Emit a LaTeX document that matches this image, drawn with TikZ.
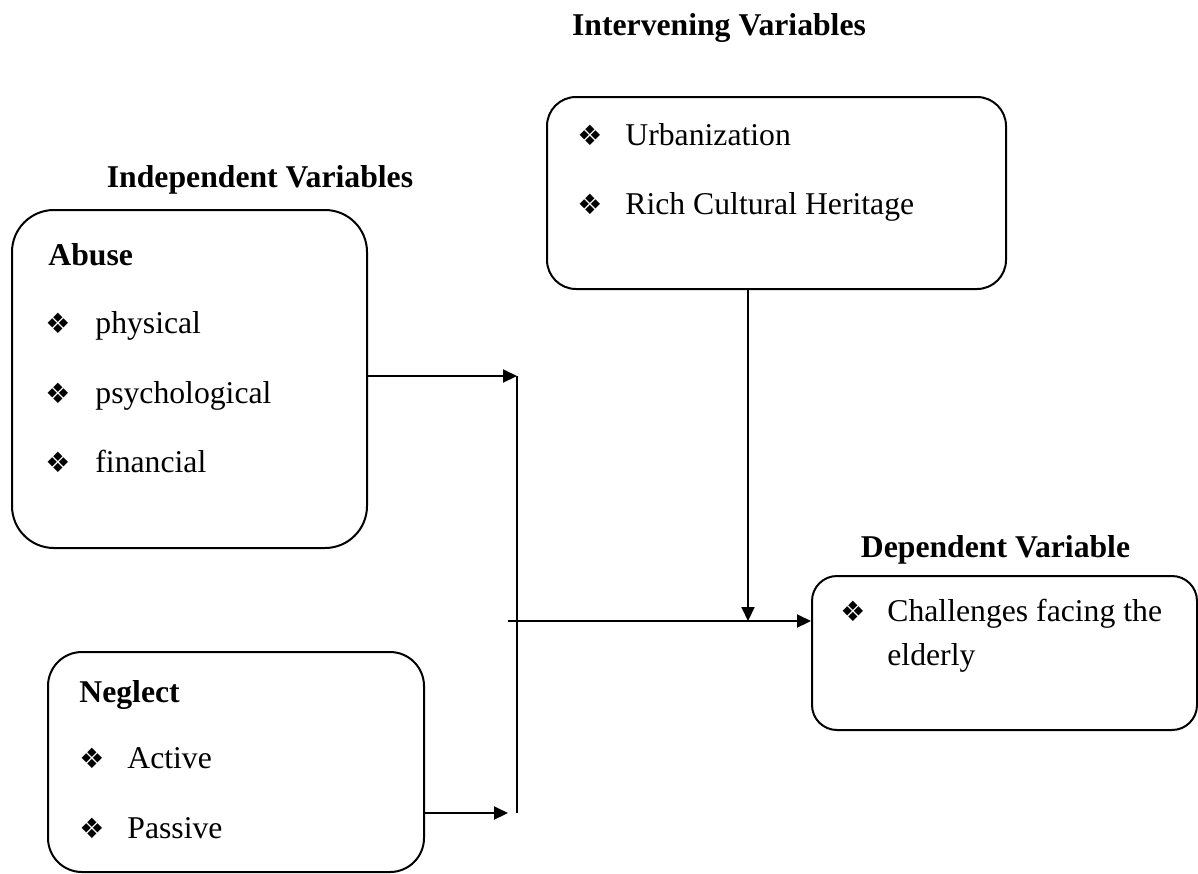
\documentclass[tikz,border=0pt]{standalone}
\usepackage{fontspec}
\setmainfont{Liberation Serif}
\newfontfamily\symfont{DejaVu Sans}
\usetikzlibrary{arrows.meta,positioning}

\newcommand{\dia}{{\symfont\fontsize{14}{14}\selectfont ❖}}

\begin{document}
\begin{tikzpicture}[x=0.5pt,y=-0.5pt,font=\fontsize{15.85}{18}\selectfont,
	box/.style={draw,line width=1pt,inner sep=0pt},
	head/.style={font=\fontsize{15.85}{18}\selectfont\bfseries,anchor=base,inner sep=0pt},
	item/.style={anchor=base west,inner sep=0pt},
	dot/.style={inner sep=0pt},
	arr/.style={line width=1pt,-{Triangle[length=7pt,width=6.5pt]}},
	ln/.style={line width=1pt}]
	\useasboundingbox (0,0) rectangle (1198,873);
	
	% Boxes
	\node[box,rounded corners=21pt,minimum width=177.5pt,minimum height=169pt] (abuse) at (189.5,379) {};
	\node[box,rounded corners=17pt,minimum width=188pt,minimum height=110pt] (neglect) at (236,762) {};
	\node[box,rounded corners=14.5pt,minimum width=229.5pt,minimum height=96pt] (interv) at (776.5,193) {};
	\node[box,rounded corners=12.5pt,minimum width=192.5pt,minimum height=77pt] (dep) at (1004.5,653) {};
	
	% Headings
	\node[head] (indephead) at (260,187) {Independent Variables};
	\node[head] (intervhead) at (719,35) {Intervening Variables};
	\node[head] (dephead) at (995.5,557) {Dependent Variable};
	\node[head,anchor=base west] (abusehead) at (48,265) {Abuse};
	\node[head,anchor=base west] (neglecthead) at (79,702) {Neglect};
	
	% Items
	\foreach \t/\y in {physical/333, psychological/403, financial/472}{
		\node[dot] (abd\y) at (58,\y-10) {\dia};
		\node[item] (abt\y) at (95,\y) {\t};
	}
	\foreach \t/\y in {Active/768, Passive/838}{
		\node[dot] (ned\y) at (92,\y-10) {\dia};
		\node[item] (net\y) at (127,\y) {\t};
	}
	\foreach \t/\y in {Urbanization/145, Rich Cultural Heritage/214}{
		\node[dot] (ind\y) at (590,\y-10) {\dia};
		\node[item] (int\y) at (625,\y) {\t};
	}
	\node[dot] (depd) at (853,611) {\dia};
	\node[item] (dept1) at (887,621) {Challenges facing the};
	\node[item] (dept2) at (887,665) {elderly};
	
	% Connectors
	\coordinate (jtop) at (517,376);
	\coordinate (jbot) at (517,813);
	\coordinate (nend) at (508,813);
	\coordinate (mstart) at (508,621);
	\coordinate (mid) at (748,621);
	\draw[arr] (abuse.east |- jtop) -- (jtop);
	\draw[ln] (jtop) -- (jbot);
	\draw[arr] (neglect.east |- nend) -- (nend);
	\draw[arr] (mstart) -- (dep.west |- mstart);
	\draw[arr] (interv.south -| mid) -- (mid);
\end{tikzpicture}
\end{document}
